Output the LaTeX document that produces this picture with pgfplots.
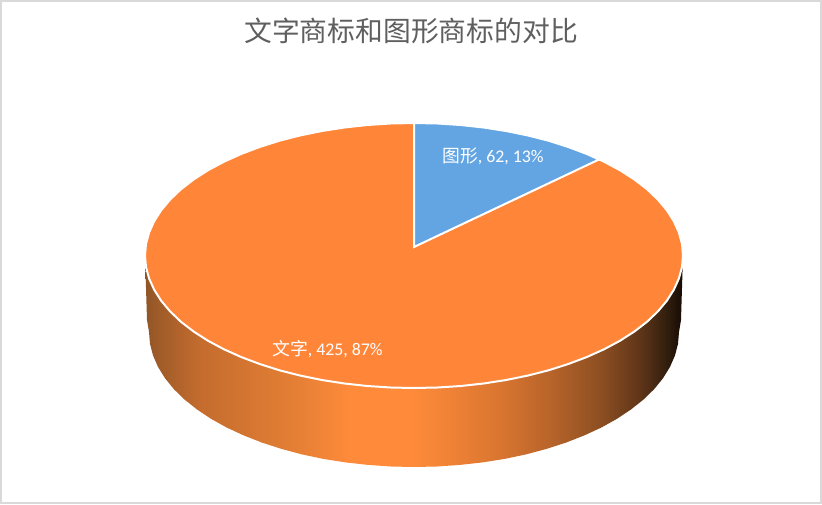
\documentclass[border=0pt]{standalone}
\usepackage{pgfplots}
\pgfplotsset{compat=1.18}
\usepackage{fontspec}
\setmainfont{Carlito}
\newfontfamily\cjk{Noto Sans CJK SC}
\definecolor{topor}{HTML}{FF8639}
\definecolor{blu}{HTML}{63A5E3}
\definecolor{ttl}{HTML}{5F5F5F}
\definecolor{frm}{HTML}{D9D9D9}
\definecolor{g0}{HTML}{8F5527}
\definecolor{g1}{HTML}{9C5A28}
\definecolor{g2}{HTML}{C46C2E}
\definecolor{g3}{HTML}{E68035}
\definecolor{g4}{HTML}{FF8A3A}
\definecolor{g5}{HTML}{FF8B3A}
\definecolor{g6}{HTML}{F08236}
\definecolor{g7}{HTML}{D97530}
\definecolor{g8}{HTML}{B8642A}
\definecolor{g9}{HTML}{8D4F22}
\definecolor{g10}{HTML}{5F3518}
\definecolor{g11}{HTML}{35200F}
\definecolor{g12}{HTML}{150A03}
\pgfdeclarehorizontalshading{sidegrad}{100bp}{
 color(0bp)=(g0); color(25bp)=(g0); color(25.93bp)=(g1); color(30.1bp)=(g2);
 color(39.4bp)=(g3); color(44.05bp)=(g4); color(49.6bp)=(g5); color(53.3bp)=(g6);
 color(58bp)=(g7); color(62.6bp)=(g8); color(67.3bp)=(g9); color(71bp)=(g10);
 color(73.3bp)=(g11); color(75bp)=(g12); color(100bp)=(g12)}
\begin{document}
\begin{tikzpicture}
\begin{axis}[
  width=822pt, height=504pt, scale only axis,
  xmin=0, xmax=822, ymin=0, ymax=504, y dir=reverse,
  axis lines=none, clip=false, no markers,
  title={\cjk 文字商标和图形商标的对比},
  title style={at={(axis cs:411,36.5)}, anchor=center, font=\fontsize{27.8pt}{30pt}\selectfont, text=ttl, inner sep=0pt},
]
% frame
\addplot[frm, line width=2pt, forget plot] coordinates {(1,1)(821,1)(821,503)(1,503)} -- cycle;
% side wall
\addplot[draw=none, shade, shading=sidegrad, forget plot] coordinates {
(145,255.5)(146,267)(149.1,278.5)(154.2,289.8)(161.2,300.8)(170.2,311.5)(181,321.8)(193.6,331.5)(207.9,340.7)(223.8,349.2)(241.1,357)(259.7,364)(279.5,370.3)(300.3,375.6)(322,380)(344.4,383.5)(367.3,386)(390.5,387.5)(414,388)
(437.5,387.5)(460.7,386)(483.6,383.5)(506,380)(527.7,375.6)(548.5,370.3)(568.3,364)(586.9,357)(604.2,349.2)(620.1,340.7)(634.4,331.5)(647,321.8)(657.8,311.5)(666.8,300.8)(673.8,289.8)(678.9,278.5)(682,267)(683,255.5)
(681,320)(679,332)(678,343.8)(675,355.4)(670,366.9)(663,378.2)(654.2,389.1)(643.5,399.5)(631.1,409.4)(617,418.8)(601.4,427.5)(584.3,435.4)(566,442.6)(546.5,448.9)(526,454.4)(504.6,458.9)(482.6,462.4)(460,464.9)(437.1,466.5)(414,467)
(390.9,466.5)(368,464.9)(345.4,462.4)(323.4,458.9)(302,454.4)(281.5,448.9)(262,442.6)(243.7,435.4)(226.6,427.5)(211,418.8)(196.9,409.4)(184.5,399.5)(173.8,389.1)(165,378.2)(158,366.9)(153,355.4)(150,343.8)(149,332)(147,320)
} -- cycle;
% top face: orange sector
\addplot[fill=topor, draw=white, line width=2pt, forget plot] coordinates {
(414,123)(437.5,123.5)(460.7,125)(483.6,127.5)(506,131)(527.7,135.4)(548.5,140.7)(568.3,147)(586.9,154)(604.2,161.8)(620.1,170.3)(634.4,179.5)(647,189.2)(657.8,199.5)(666.8,210.2)(673.8,221.2)(678.9,232.5)(682,244)(683,255.5)
(682,267)(678.9,278.5)(673.8,289.8)(666.8,300.8)(657.8,311.5)(647,321.8)(634.4,331.5)(620.1,340.7)(604.2,349.2)(586.9,357)(568.3,364)(548.5,370.3)(527.7,375.6)(506,380)(483.6,383.5)(460.7,386)(437.5,387.5)(414,388)
(390.5,387.5)(367.3,386)(344.4,383.5)(322,380)(300.3,375.6)(279.5,370.3)(259.7,364)(241.1,357)(223.8,349.2)(207.9,340.7)(193.6,331.5)(181,321.8)(170.2,311.5)(161.2,300.8)(154.2,289.8)(149.1,278.5)(146,267)(145,255.5)
(146,244)(149.1,232.5)(154.2,221.2)(161.2,210.2)(170.2,199.5)(181,189.2)(193.6,179.5)(207.9,170.3)(223.8,161.8)(241.1,154)(259.7,147)(279.5,140.7)(300.3,135.4)(322,131)(344.4,127.5)(367.3,125)(390.5,123.5)
} -- cycle;
% top face: blue sector
\addplot[fill=blu, draw=white, line width=2pt, line join=miter, forget plot] coordinates {
(414,247)(414,123)(437.5,123.5)(460.7,125)(483.6,127.5)(506,131)(527.7,135.4)(548.5,140.7)(568.3,147)(586.9,154)(599,159.5)
} -- cycle;
\node[white, font=\fontsize{17.8pt}{20pt}\selectfont, anchor=west, inner sep=0pt] at (axis cs:442,156) {{\cjk 图形}, 62, 13\%};
\node[white, font=\fontsize{17.8pt}{20pt}\selectfont, anchor=west, inner sep=0pt] at (axis cs:272,349) {{\cjk 文字}, 425, 87\%};
\end{axis}
\end{tikzpicture}
\end{document}
